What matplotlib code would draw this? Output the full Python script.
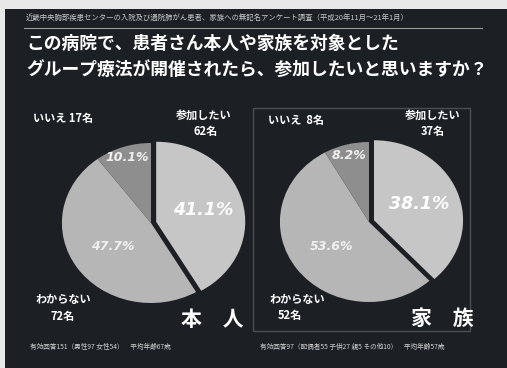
import matplotlib
matplotlib.use('Agg')
import matplotlib.pyplot as plt
import numpy as np
from matplotlib.patches import Rectangle

plt.rcParams['font.family'] = ['Noto Sans CJK JP', 'DejaVu Sans']

# survey data
answers = ['参加したい', 'わからない', 'いいえ']
patient_pct = [41.1, 47.7, 10.1]
patient_n = [62, 72, 17]
family_pct = [38.1, 53.6, 8.2]
family_n = [37, 52, 8]

slice_colors = ['#c6c6c6', '#b6b6b6', '#8e8e8e']
bg = '#1c2024'

W, H = 507, 368
fig = plt.figure(figsize=(W / 100, H / 100), dpi=100)
fig.patch.set_facecolor('#e8e8e8')

def fx(px):
    return px / W

def fy(py):
    return 1 - py / H

# dark slide area
fig.patches.append(Rectangle((fx(5), 0), 1 - fx(5), fy(9), transform=fig.transFigure,
                             facecolor=bg, edgecolor='none', zorder=-1))

fig.text(fx(26), fy(18), '近畿中央胸部疾患センターの入院及び通院肺がん患者、家族への無記名アンケート調査（平成20年11月～21年1月）',
         color='#c8c8c8', fontsize=5.3, va='center', ha='left')
fig.lines.append(plt.Line2D([fx(24), fx(482)], [fy(28), fy(28)], transform=fig.transFigure,
                            color='#9a9a9a', lw=0.8))
fig.text(fx(26), fy(44), 'この病院で、患者さん本人や家族を対象とした',
         color='white', fontsize=12.8, fontweight='bold', va='center', ha='left')
fig.text(fx(26), fy(70), 'グループ療法が開催されたら、参加したいと思いますか？',
         color='white', fontsize=12.8, fontweight='bold', va='center', ha='left')

# right panel frame
fig.patches.append(Rectangle((fx(253), fy(331)), fx(470 - 253), fy(108) - fy(331),
                             transform=fig.transFigure, facecolor='none',
                             edgecolor='#4a4e52', lw=1.0, zorder=1))


def draw_pie(cx, cy, pcts, big_size):
    ax = fig.add_axes([fx(cx - 98), fy(cy + 88), fx(196), 176 / H])
    ax.set_facecolor('none')
    wedges, _ = ax.pie(pcts, colors=slice_colors, startangle=90,
                       counterclock=False, explode=[0.06, 0, 0],
                       wedgeprops={'linewidth': 0})
    ax.set_aspect('auto')
    ax.set_xlim(-1.1, 1.1)
    ax.set_ylim(-1.1, 1.1)
    dists = [0.55, 0.52, 0.86]
    for i, w in enumerate(wedges):
        ang = np.deg2rad((w.theta1 + w.theta2) / 2)
        ox, oy = w.center
        ax.text(ox + dists[i] * np.cos(ang), oy + dists[i] * np.sin(ang),
                f'{pcts[i]:.1f}%', family='DejaVu Sans', style='italic',
                weight='bold', ha='center', va='center',
                fontsize=big_size if i == 0 else 9,
                color='white' if i == 0 else '#f0f0f0')
    return ax


draw_pie(151, 223, patient_pct, 12.5)
draw_pie(369, 222, family_pct, 12.5)

lab = dict(color='white', fontsize=8, fontweight='bold', va='center')
# left panel labels
fig.text(fx(33), fy(118), f'{answers[2]} {patient_n[2]}名', ha='left', **lab)
fig.text(fx(204), fy(115), f'{answers[0]}', ha='center', **lab)
fig.text(fx(206), fy(131), f'{patient_n[0]}名', ha='center', **lab)
fig.text(fx(63), fy(300), f'{answers[1]}', ha='center', **lab)
fig.text(fx(63), fy(316), f'{patient_n[1]}名', ha='center', **lab)
fig.text(fx(212), fy(320), '本　人', color='white', fontsize=15, fontweight='bold',
         ha='center', va='center')
fig.text(fx(30), fy(347), '有効回答151（男性97 女性54）　平均年齢67歳',
         color='#d0d0d0', fontsize=4.8, ha='left', va='center')

# right panel labels
fig.text(fx(268), fy(120), f'{answers[2]}  {family_n[2]}名', ha='left', **lab)
fig.text(fx(433), fy(115), f'{answers[0]}', ha='center', **lab)
fig.text(fx(433), fy(131), f'{family_n[0]}名', ha='center', **lab)
fig.text(fx(297), fy(300), f'{answers[1]}', ha='center', **lab)
fig.text(fx(290), fy(315), f'{family_n[1]}名', ha='center', **lab)
fig.text(fx(442), fy(318), '家　族', color='white', fontsize=15, fontweight='bold',
         ha='center', va='center')
fig.text(fx(260), fy(347), '有効回答97（配偶者55 子供27 親5 その他10）　平均年齢57歳',
         color='#d0d0d0', fontsize=4.8, ha='left', va='center')

fig.savefig('out.png', dpi=100, facecolor=fig.get_facecolor())
